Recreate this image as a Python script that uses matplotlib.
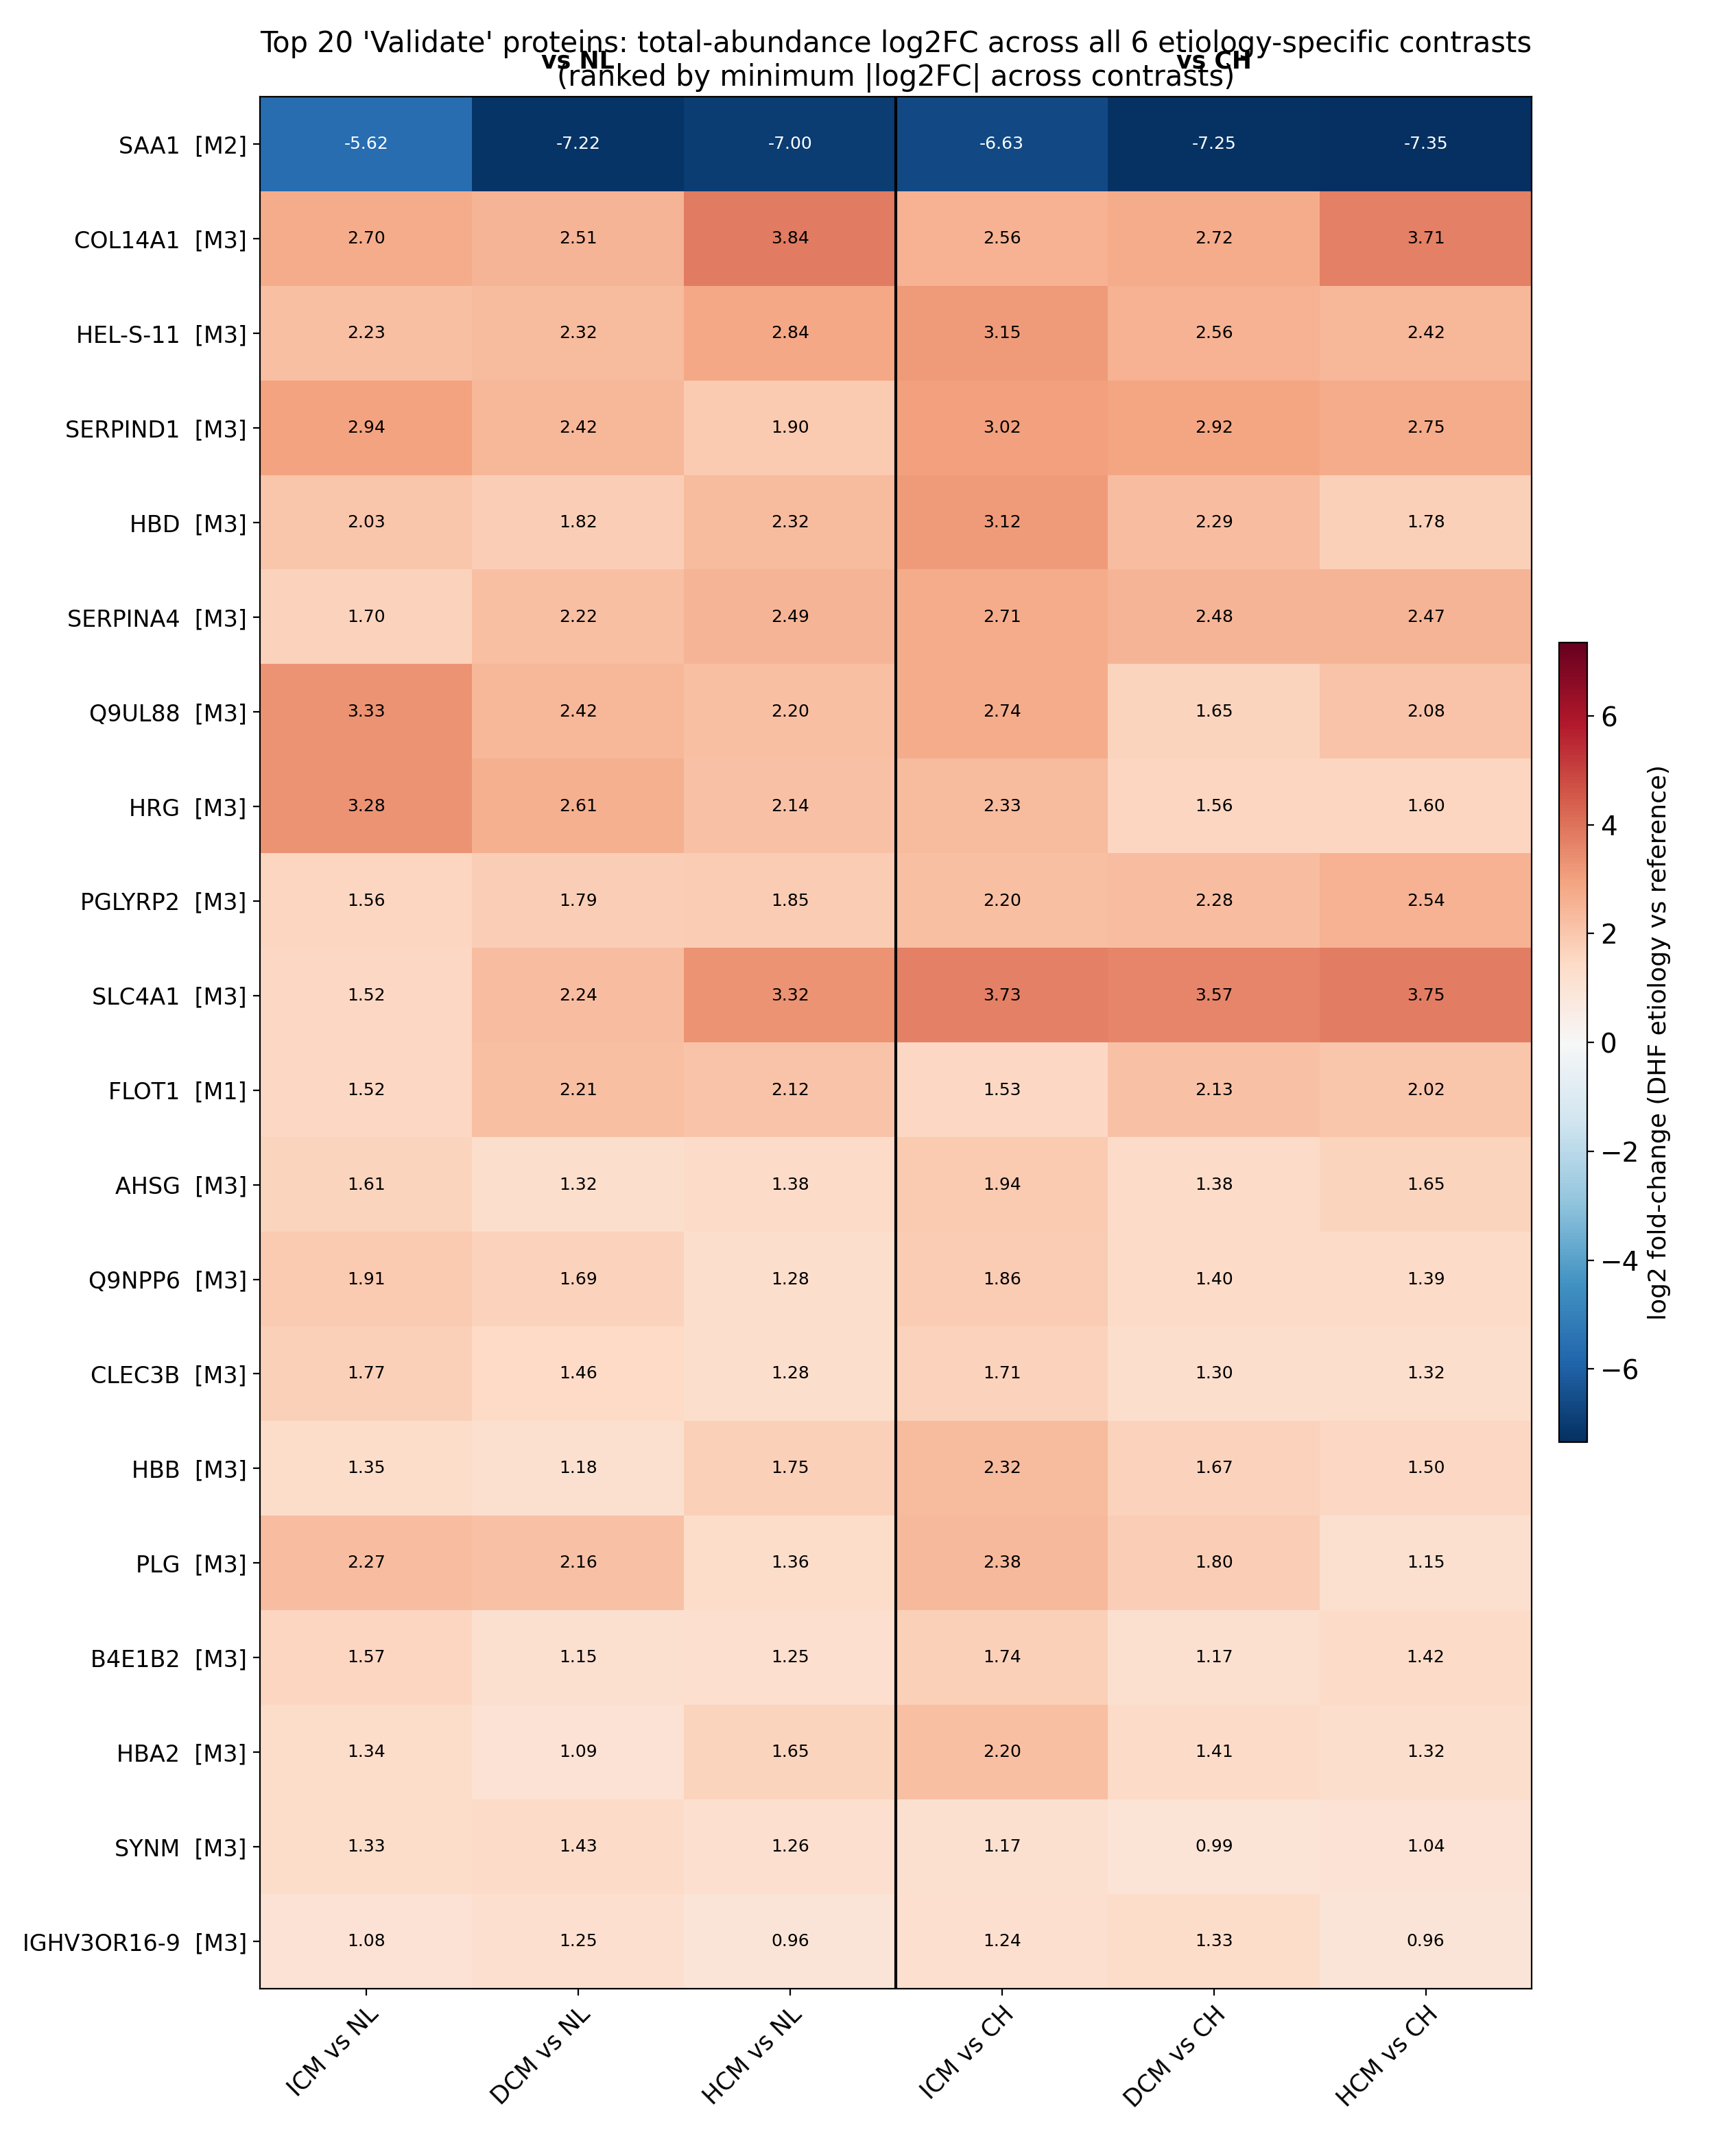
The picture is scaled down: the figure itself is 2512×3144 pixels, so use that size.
import numpy as np
import matplotlib
matplotlib.use("Agg")
import matplotlib.pyplot as plt

proteins = ["SAA1  [M2]", "COL14A1  [M3]", "HEL-S-11  [M3]", "SERPIND1  [M3]", "HBD  [M3]",
            "SERPINA4  [M3]", "Q9UL88  [M3]", "HRG  [M3]", "PGLYRP2  [M3]", "SLC4A1  [M3]",
            "FLOT1  [M1]", "AHSG  [M3]", "Q9NPP6  [M3]", "CLEC3B  [M3]", "HBB  [M3]",
            "PLG  [M3]", "B4E1B2  [M3]", "HBA2  [M3]", "SYNM  [M3]", "IGHV3OR16-9  [M3]"]
contrasts = ["ICM vs NL", "DCM vs NL", "HCM vs NL", "ICM vs CH", "DCM vs CH", "HCM vs CH"]
log2fc = np.array([
    [-5.62, -7.22, -7.00, -6.63, -7.25, -7.35],
    [2.70, 2.51, 3.84, 2.56, 2.72, 3.71],
    [2.23, 2.32, 2.84, 3.15, 2.56, 2.42],
    [2.94, 2.42, 1.90, 3.02, 2.92, 2.75],
    [2.03, 1.82, 2.32, 3.12, 2.29, 1.78],
    [1.70, 2.22, 2.49, 2.71, 2.48, 2.47],
    [3.33, 2.42, 2.20, 2.74, 1.65, 2.08],
    [3.28, 2.61, 2.14, 2.33, 1.56, 1.60],
    [1.56, 1.79, 1.85, 2.20, 2.28, 2.54],
    [1.52, 2.24, 3.32, 3.73, 3.57, 3.75],
    [1.52, 2.21, 2.12, 1.53, 2.13, 2.02],
    [1.61, 1.32, 1.38, 1.94, 1.38, 1.65],
    [1.91, 1.69, 1.28, 1.86, 1.40, 1.39],
    [1.77, 1.46, 1.28, 1.71, 1.30, 1.32],
    [1.35, 1.18, 1.75, 2.32, 1.67, 1.50],
    [2.27, 2.16, 1.36, 2.38, 1.80, 1.15],
    [1.57, 1.15, 1.25, 1.74, 1.17, 1.42],
    [1.34, 1.09, 1.65, 2.20, 1.41, 1.32],
    [1.33, 1.43, 1.26, 1.17, 0.99, 1.04],
    [1.08, 1.25, 0.96, 1.24, 1.33, 0.96],
])
groups = ["vs NL", "vs CH"]

vmax = np.abs(log2fc).max()
fig = plt.figure(figsize=(12.56, 15.72), dpi=200)
ax = fig.add_axes([0.151, 0.0776, 0.738, 0.8774])
im = ax.imshow(log2fc, cmap="RdBu_r", vmin=-vmax, vmax=vmax, aspect="auto")

for i in range(log2fc.shape[0]):
    for j in range(log2fc.shape[1]):
        v = log2fc[i, j]
        ax.text(j, i, f"{v:.2f}", ha="center", va="center", fontsize=9,
                color="white" if abs(v) > 4 else "black")

ax.set_xticks(range(len(contrasts)))
ax.set_xticklabels(contrasts, rotation=45, ha="right", rotation_mode="anchor", fontsize=12.5)
ax.set_yticks(range(len(proteins)))
ax.set_yticklabels(proteins, fontsize=12)
ax.axvline(2.5, color="black", lw=1.5)
for k, g in enumerate(groups):
    ax.text(1 + 3 * k, -0.75, g, ha="center", va="bottom", fontsize=12.5, fontweight="bold")
ax.set_title("Top 20 'Validate' proteins: total-abundance log2FC across all 6 etiology-specific contrasts\n"
             "(ranked by minimum |log2FC| across contrasts)", fontsize=15)

cax = fig.add_axes([0.905, 0.331, 0.016, 0.371])
cb = fig.colorbar(im, cax=cax)
cb.ax.tick_params(labelsize=14)
cb.set_label("log2 fold-change (DHF etiology vs reference)", fontsize=13)

fig.savefig("out.png", dpi=200)
